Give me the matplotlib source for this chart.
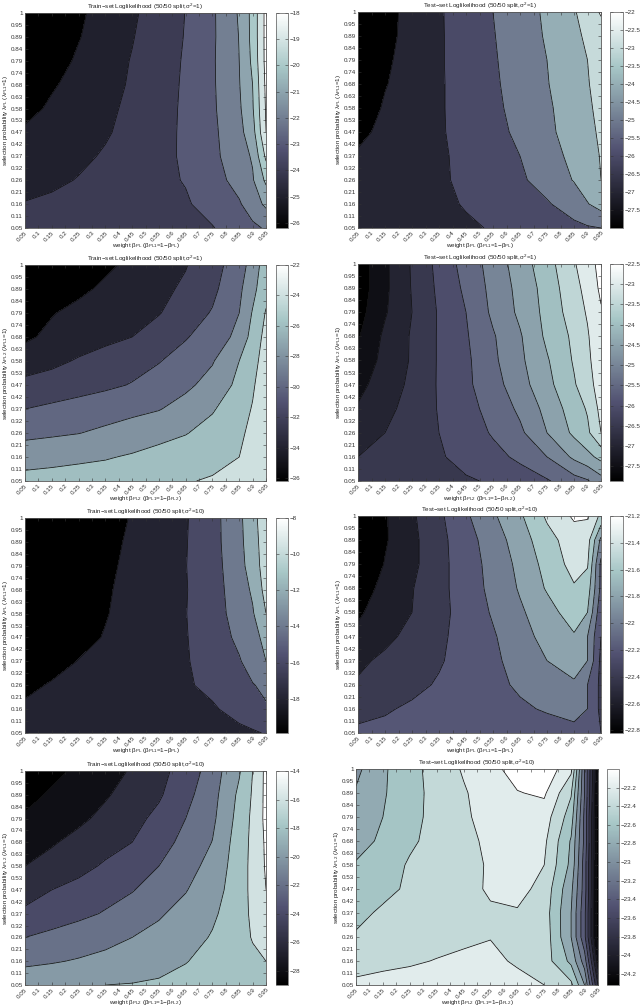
import numpy as np
import matplotlib
matplotlib.use('Agg')
import matplotlib.pyplot as plt
from matplotlib.cm import ScalarMappable
from matplotlib.colors import Normalize

plt.rcParams['font.family'] = ['Liberation Sans', 'DejaVu Sans']
plt.rcParams['mathtext.fontset'] = 'custom'
plt.rcParams['mathtext.rm'] = 'Liberation Sans'
plt.rcParams['mathtext.it'] = 'Liberation Sans'
plt.rcParams['mathtext.bf'] = 'Liberation Sans'

beta_labels = ['0.05', '0.1', '0.15', '0.2', '0.25', '0.3', '0.35', '0.4', '0.45', '0.5',
               '0.55', '0.6', '0.65', '0.7', '0.75', '0.8', '0.85', '0.9', '0.95']
lambda_labels = ['0.05', '0.11', '0.16', '0.21', '0.26', '0.32', '0.37', '0.42', '0.47', '0.53',
                 '0.58', '0.63', '0.68', '0.74', '0.79', '0.84', '0.89', '0.95', '1']

# grid nodes the values were read at, as tick numbers
x_nodes = [0, 2, 4, 6, 8, 10, 12, 14, 16, 17, 18]
y_nodes = [0, 2, 4, 6, 8, 10, 12, 14, 16, 18]

# every table is written top row (lambda=1) first
train_pl_s1 = [
    [-26.0, -25.6, -25.15, -24.65, -24.15, -23.55, -22.98, -22.15, -20.9, -19.7, -17.7],
    [-26.0, -25.55, -25.05, -24.55, -24.05, -23.5, -22.95, -22.15, -20.97, -19.7, -17.7],
    [-25.85, -25.4, -24.87, -24.4, -23.95, -23.45, -22.9, -22.12, -21.0, -19.8, -17.7],
    [-25.6, -25.1, -24.7, -24.3, -23.9, -23.4, -22.87, -22.13, -21.05, -20.0, -17.8],
    [-25.3, -24.85, -24.5, -24.2, -23.8, -23.35, -22.85, -22.15, -21.15, -20.1, -17.9],
    [-24.85, -24.6, -24.4, -24.1, -23.7, -23.3, -22.85, -22.2, -21.3, -20.4, -18.0],
    [-24.6, -24.4, -24.2, -23.9, -23.55, -23.25, -22.87, -22.25, -21.4, -20.9, -18.8],
    [-24.35, -24.2, -23.95, -23.7, -23.45, -23.2, -22.95, -22.4, -21.65, -21.1, -19.8],
    [-23.95, -23.8, -23.65, -23.5, -23.35, -23.25, -23.1, -22.65, -22.1, -21.5, -20.8],
    [-23.8, -23.7, -23.6, -23.5, -23.4, -23.3, -23.2, -23.05, -22.5, -22.2, -21.9],
]
test_pl_s1 = [
    [-27.9, -27.3, -26.7, -26.1, -25.55, -25.0, -24.55, -23.8, -23.1, -22.5, -21.9],
    [-27.9, -27.25, -26.7, -26.1, -25.6, -25.05, -24.5, -23.9, -23.2, -22.85, -22.45],
    [-27.85, -27.15, -26.65, -26.1, -25.6, -25.1, -24.55, -24.0, -23.3, -23.0, -22.6],
    [-27.75, -27.05, -26.6, -26.1, -25.65, -25.15, -24.6, -24.05, -23.4, -23.05, -22.7],
    [-27.55, -26.9, -26.5, -26.1, -25.65, -25.2, -24.7, -24.15, -23.5, -23.15, -22.75],
    [-27.2, -26.8, -26.45, -26.1, -25.7, -25.3, -24.8, -24.25, -23.5, -23.25, -22.85],
    [-26.9, -26.65, -26.4, -26.15, -25.75, -25.4, -25.0, -24.4, -23.75, -23.35, -22.95],
    [-26.65, -26.45, -26.3, -26.15, -25.8, -25.5, -25.15, -24.6, -23.95, -23.5, -23.0],
    [-26.4, -26.3, -26.2, -26.15, -25.95, -25.7, -25.4, -25.1, -24.5, -24.05, -23.6],
    [-26.3, -26.25, -26.2, -26.15, -26.1, -25.95, -25.7, -25.5, -25.25, -25.1, -25.0],
]
train_pl2_s1 = [
    [-36.0, -35.4, -34.9, -34.3, -33.65, -32.85, -32.1, -30.8, -28.9, -27.2, -24.9],
    [-35.7, -35.0, -34.35, -33.7, -33.1, -32.45, -31.7, -30.45, -28.4, -26.6, -24.6],
    [-35.1, -34.1, -33.55, -33.1, -32.6, -32.1, -31.0, -29.85, -28.0, -25.85, -23.85],
    [-34.3, -33.6, -33.0, -32.5, -32.0, -31.1, -30.15, -29.0, -27.5, -25.2, -23.4],
    [-33.1, -32.5, -31.8, -31.2, -30.65, -30.1, -29.15, -28.15, -26.0, -24.6, -23.2],
    [-31.4, -31.05, -30.7, -30.35, -29.9, -29.15, -28.4, -27.3, -25.5, -24.2, -23.0],
    [-30.0, -29.65, -29.3, -28.9, -28.5, -28.1, -27.25, -26.2, -24.65, -23.9, -22.9],
    [-28.55, -28.3, -28.05, -27.6, -27.1, -26.6, -26.1, -25.25, -24.3, -23.6, -22.8],
    [-26.75, -26.55, -26.35, -26.15, -25.8, -25.35, -24.9, -24.5, -24.0, -23.4, -22.7],
    [-25.4, -25.3, -25.15, -25.0, -24.85, -24.5, -24.1, -23.85, -23.5, -23.1, -22.6],
]
test_pl2_s1 = [
    [-27.8, -27.1, -26.45, -25.85, -25.3, -24.8, -24.25, -23.7, -23.05, -22.7, -22.35],
    [-27.8, -27.1, -26.47, -25.9, -25.4, -24.85, -24.35, -23.8, -23.15, -22.85, -22.4],
    [-27.7, -27.05, -26.5, -25.95, -25.5, -24.9, -24.4, -23.85, -23.25, -22.95, -22.55],
    [-27.55, -26.9, -26.45, -25.95, -25.55, -25.05, -24.55, -23.9, -23.4, -23.05, -22.6],
    [-27.35, -26.85, -26.45, -25.95, -25.6, -25.1, -24.6, -24.05, -23.45, -23.1, -22.7],
    [-27.15, -26.75, -26.4, -25.95, -25.6, -25.2, -24.7, -24.15, -23.55, -23.2, -22.75],
    [-26.95, -26.65, -26.3, -25.97, -25.65, -25.35, -24.9, -24.35, -23.75, -23.45, -22.85],
    [-26.8, -26.5, -26.25, -26.0, -25.75, -25.45, -25.1, -24.5, -23.9, -23.6, -23.0],
    [-26.5, -26.35, -26.2, -26.05, -25.85, -25.65, -25.4, -25.0, -24.4, -24.15, -23.85],
    [-26.35, -26.25, -26.2, -26.1, -26.05, -25.95, -25.75, -25.55, -25.2, -25.05, -24.7],
]
train_pl_s10 = [
    [-19.8, -19.4, -19.0, -18.6, -17.9, -17.05, -16.15, -14.7, -12.45, -10.65, -8.8],
    [-19.8, -19.4, -19.0, -18.55, -17.7, -16.9, -16.1, -14.7, -12.55, -10.8, -9.0],
    [-19.8, -19.3, -18.9, -18.35, -17.6, -16.85, -16.05, -14.75, -12.75, -11.0, -9.1],
    [-19.7, -19.25, -18.85, -18.2, -17.5, -16.75, -16.1, -14.8, -13.0, -11.7, -9.3],
    [-19.5, -19.15, -18.75, -18.1, -17.4, -16.7, -16.05, -14.85, -13.2, -12.2, -10.0],
    [-19.3, -19.0, -18.5, -17.9, -17.2, -16.65, -16.1, -15.0, -13.6, -12.6, -11.5],
    [-19.0, -18.6, -17.95, -17.5, -17.0, -16.55, -16.15, -15.2, -14.15, -13.2, -12.0],
    [-18.4, -17.85, -17.55, -17.2, -16.85, -16.55, -16.2, -15.6, -14.6, -14.1, -13.6],
    [-17.7, -17.55, -17.4, -17.2, -17.0, -16.75, -16.5, -16.2, -15.4, -14.9, -14.2],
    [-17.5, -17.4, -17.3, -17.2, -17.1, -17.0, -16.85, -16.7, -16.4, -16.2, -15.9],
]
test_pl_s10 = [
    [-22.8, -22.62, -22.43, -22.24, -22.03, -21.83, -21.63, -21.37, -21.17, -21.18, -21.45],
    [-22.8, -22.62, -22.45, -22.26, -22.08, -21.9, -21.7, -21.47, -21.3, -21.32, -21.85],
    [-22.78, -22.59, -22.45, -22.26, -22.1, -21.93, -21.75, -21.53, -21.33, -21.38, -22.05],
    [-22.72, -22.53, -22.41, -22.26, -22.1, -21.95, -21.78, -21.58, -21.42, -21.5, -22.05],
    [-22.63, -22.5, -22.4, -22.26, -22.12, -21.98, -21.83, -21.68, -21.5, -21.6, -22.15],
    [-22.55, -22.46, -22.33, -22.24, -22.12, -22.02, -21.88, -21.73, -21.62, -21.8, -22.2],
    [-22.45, -22.35, -22.28, -22.22, -22.12, -22.04, -21.92, -21.8, -21.7, -21.8, -22.25],
    [-22.37, -22.3, -22.25, -22.18, -22.12, -22.05, -21.97, -21.9, -21.83, -22.0, -22.25],
    [-22.25, -22.22, -22.17, -22.14, -22.1, -22.07, -22.03, -21.98, -21.93, -22.0, -22.25],
    [-22.17, -22.15, -22.14, -22.13, -22.12, -22.11, -22.1, -22.09, -22.06, -22.1, -22.2],
]
train_pl2_s10 = [
    [-28.9, -28.4, -27.7, -26.8, -25.8, -24.5, -23.3, -21.0, -18.2, -16.0, -13.5],
    [-28.5, -27.8, -27.0, -26.2, -25.25, -24.25, -22.6, -20.7, -17.6, -15.8, -13.5],
    [-27.8, -27.2, -26.4, -25.5, -24.6, -23.5, -22.0, -20.4, -17.3, -15.6, -13.5],
    [-27.0, -26.2, -25.4, -24.7, -24.0, -22.9, -21.35, -19.95, -17.0, -15.55, -13.7],
    [-26.0, -25.3, -24.6, -23.75, -23.0, -22.0, -20.7, -19.4, -16.9, -15.5, -13.8],
    [-24.85, -24.0, -23.4, -22.7, -22.1, -21.2, -20.1, -18.85, -16.9, -15.5, -14.0],
    [-23.6, -23.0, -22.45, -21.85, -21.2, -20.2, -19.4, -18.3, -16.9, -15.6, -14.5],
    [-22.0, -21.5, -21.0, -20.5, -20.0, -19.5, -18.75, -17.85, -16.9, -15.85, -15.0],
    [-20.35, -20.15, -19.85, -19.55, -19.2, -18.75, -18.05, -17.6, -17.1, -16.5, -16.0],
    [-18.9, -18.6, -18.4, -18.0, -17.9, -17.7, -17.6, -17.5, -17.3, -17.15, -17.0],
]
test_pl2_s10 = [
    [-22.85, -22.63, -22.47, -22.32, -22.18, -22.06, -21.92, -21.85, -22.15, -23.2, -24.2],
    [-22.78, -22.62, -22.48, -22.33, -22.22, -22.1, -22.01, -21.97, -22.38, -23.2, -24.25],
    [-22.76, -22.6, -22.46, -22.34, -22.23, -22.13, -22.1, -22.1, -22.5, -23.25, -24.3],
    [-22.73, -22.54, -22.43, -22.34, -22.24, -22.17, -22.13, -22.16, -22.62, -23.25, -24.3],
    [-22.57, -22.49, -22.38, -22.32, -22.26, -22.18, -22.13, -22.2, -22.65, -23.3, -24.3],
    [-22.52, -22.45, -22.37, -22.3, -22.25, -22.18, -22.13, -22.27, -22.75, -23.3, -24.3],
    [-22.45, -22.37, -22.33, -22.29, -22.25, -22.22, -22.22, -22.3, -22.8, -23.35, -24.3],
    [-22.38, -22.35, -22.32, -22.28, -22.24, -22.21, -22.25, -22.28, -22.8, -23.35, -24.3],
    [-22.3, -22.26, -22.23, -22.19, -22.16, -22.13, -22.24, -22.3, -22.65, -23.1, -24.1],
    [-22.15, -22.12, -22.1, -22.08, -22.07, -22.07, -22.1, -22.2, -22.35, -22.8, -23.8],
]

W, H = 640, 1005


def px_axes(fig, left, top, right, bottom):
    return fig.add_axes([left / W, 1 - bottom / H, (right - left) / W, (bottom - top) / H])


def panel(fig, box, cbox, z, levels, vmin, vmax, ticks, title, pl, sub):
    ax = px_axes(fig, *box)
    cax = px_axes(fig, *cbox)
    lev = [vmin] + list(levels) + [vmax + 5]
    cmap = plt.get_cmap('bone')
    norm = Normalize(vmin, vmax)
    cols = [cmap(norm(v)) for v in lev[:-1]]
    x = np.array(x_nodes)
    y = np.array(y_nodes)
    zz = np.array(z)[::-1]
    ax.contourf(x, y, zz, levels=lev, colors=cols)
    ax.contour(x, y, zz, levels=levels, colors='#111111', linewidths=0.55, linestyles='solid')
    ax.set_xlim(0, 18)
    ax.set_ylim(0, 18)
    ax.set_xticks(range(19))
    ax.set_xticklabels(beta_labels, rotation=45, ha='right', rotation_mode='anchor')
    ax.set_yticks(range(19))
    ax.set_yticklabels(lambda_labels)
    ax.tick_params(direction='in', length=2, width=0.4, labelsize=4.5, pad=1.5,
                   top=True, right=True, colors='#333333')
    ax.set_title(title, fontsize=4.5, pad=3, color='#222222')
    ax.set_xlabel(r'weight $\beta_{%s}$ ($\beta_{PL1}$=1$-\beta_{%s}$)' % (pl, pl),
                  fontsize=4.5, color='#222222')
    ax.xaxis.set_label_coords(0.5, -0.06)
    ax.set_ylabel(r'selection probability $\lambda_{%s}$ ($\lambda_{PL1}$=1)' % sub,
                  fontsize=4.5, color='#222222')
    ax.yaxis.set_label_coords(-0.062, 0.5)
    for s in ax.spines.values():
        s.set_linewidth(0.6)
        s.set_color('#555555')

    cb = fig.colorbar(ScalarMappable(norm=norm, cmap=cmap), cax=cax)
    cb.set_ticks(ticks)
    cb.set_ticklabels([('%g' % t).replace('-', '\u2212') for t in ticks])
    cax.tick_params(direction='in', length=2, width=0.4, labelsize=4.5, pad=1.5,
                    left=True, right=True, colors='#333333')
    cb.outline.set_linewidth(0.5)
    cb.outline.set_edgecolor('#555555')


fig = plt.figure(figsize=(6.4, 10.05), dpi=100)

LX = (25, 266)
LC = (276, 288)
RX = (358, 601)
RC = (610, 623)

panel(fig, (LX[0], 13, LX[1], 228), (LC[0], 13, LC[1], 228), train_pl_s1,
      [-25, -24, -23, -22, -21, -20, -19, -18], -26.2, -18, list(range(-26, -17)),
      r'Train$-$set Loglikelihood (50/50 split,$\sigma^2$=1)', 'PL', 'PL')
panel(fig, (RX[0], 12, RX[1], 228), (RC[0], 12, RC[1], 228), test_pl_s1,
      [-27, -26, -25, -24, -23, -22], -28, -22, list(np.arange(-27.5, -21.9, 0.5)),
      r'Test$-$set Loglikelihood (50/50 split,$\sigma^2$=1)', 'PL', 'PL')
panel(fig, (LX[0], 265, LX[1], 481), (LC[0], 265, LC[1], 481), train_pl2_s1,
      [-34, -32, -30, -28, -26, -24], -36.2, -22, list(range(-36, -21, 2)),
      r'Train$-$set Loglikelihood (50/50 split,$\sigma^2$=1)', 'PL2', 'PL2')
panel(fig, (RX[0], 264, RX[1], 481), (RC[0], 264, RC[1], 481), test_pl2_s1,
      list(np.arange(-27.5, -22.4, 0.5)), -27.86, -22.5, list(np.arange(-27.5, -22.4, 0.5)),
      r'Test$-$set Loglikelihood (50/50 split,$\sigma^2$=1)', 'PL2', 'PL2')
panel(fig, (LX[0], 518, LX[1], 733), (LC[0], 518, LC[1], 733), train_pl_s10,
      [-18, -16, -14, -12, -10], -19.9, -8, list(range(-18, -7, 2)),
      r'Train$-$set Loglikelihood (50/50 split,$\sigma^2$=10)', 'PL', 'PL')
panel(fig, (RX[0], 516, RX[1], 733), (RC[0], 516, RC[1], 733), test_pl_s10,
      list(np.round(np.arange(-22.6, -21.1, 0.2), 1)), -22.82, -21.2,
      list(np.round(np.arange(-22.8, -21.1, 0.2), 1)),
      r'Test$-$set Loglikelihood (50/50 split,$\sigma^2$=10)', 'PL', 'PL')
panel(fig, (LX[0], 771, LX[1], 985), (LC[0], 771, LC[1], 985), train_pl2_s10,
      list(range(-28, -13, 2)), -29, -14, list(range(-28, -13, 2)),
      r'Train$-$set Loglikelihood (50/50 split,$\sigma^2$=10)', 'PL2', 'PL2')
panel(fig, (356, 769, 598, 985), (607, 769, 619, 985), test_pl2_s10,
      list(np.round(np.arange(-24.2, -21.9, 0.2), 1)), -24.32, -22.0,
      list(np.round(np.arange(-24.2, -22.1, 0.2), 1)),
      r'Test$-$set Loglikelihood (50/50 split,$\sigma^2$=10)', 'PL2', 'PL2')

fig.savefig('out.png', dpi=100)
